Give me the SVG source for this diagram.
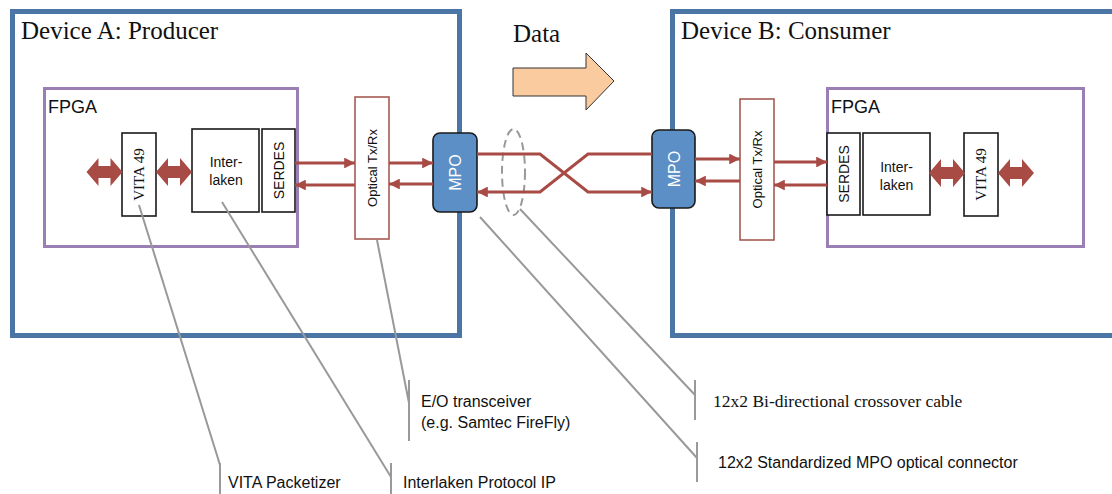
<svg xmlns="http://www.w3.org/2000/svg" width="1112" height="494" viewBox="0 0 1112 494">
  <defs>
    <style>
      .device { fill: #ffffff; stroke: #4a75a4; stroke-width: 5; }
      .fpga { fill: none; stroke: #9a7fb5; stroke-width: 3; }
      .block { fill: #ffffff; stroke: #1a1a1a; stroke-width: 1.6; }
      .optical { fill: #ffffff; stroke: #a0504a; stroke-width: 1.5; }
      .mpo { fill: #5b8fc6; stroke: #1a1a1a; stroke-width: 1.6; }
      .link { fill: none; stroke: #a84b45; stroke-width: 3; }
      .bus { fill: #a84b45; }
      .leader { fill: none; stroke: #999999; stroke-width: 2; }
      .serif { font-family: "Liberation Serif", "Times New Roman", serif; fill: #111111; }
      .sans { font-family: "Liberation Sans", Arial, sans-serif; fill: #111111; }
      .title { font-size: 25px; }
      .fpga-label { font-size: 18px; }
      .inner { font-size: 14px; }
      .note { font-size: 16px; }
      .mpo-label { font-family: "Liberation Sans", Arial, sans-serif; font-size: 16px; fill: #ffffff; }
    </style>
    <marker id="head" viewBox="0 0 10 10" refX="10" refY="5" markerWidth="3.6" markerHeight="3.6" orient="auto" markerUnits="strokeWidth">
      <path d="M0,0 L10,5 L0,10 Z" fill="#a84b45"/>
    </marker>
    <!-- double-headed bus arrow centred on the origin -->
    <polygon id="bus-arrow" points="-18,0 -6,-14 -6,-6 6,-6 6,-14 18,0 6,14 6,6 -6,6 -6,14"/>
  </defs>

  <!-- Device enclosures -->
  <g id="device-a">
    <rect class="device" x="12.5" y="11.5" width="447" height="324"/>
    <text class="serif title" x="21" y="39">Device A: Producer</text>
  </g>
  <g id="device-b">
    <rect class="device" x="672.5" y="11.5" width="450" height="324"/>
    <text class="serif title" x="681" y="39">Device B: Consumer</text>
  </g>

  <!-- Data direction -->
  <g id="data-direction">
    <text class="serif title" x="513" y="42">Data</text>
    <polygon points="513,68 586,68 586,53 614,81 586,110 586,96 513,96" fill="#facb9e" stroke="#333333" stroke-width="1"/>
  </g>

  <!-- Device A internals -->
  <g id="fpga-a">
    <rect class="fpga" x="44.5" y="88.5" width="253" height="158"/>
    <text class="sans fpga-label" x="48" y="113">FPGA</text>
  </g>
  <g id="vita-a">
    <rect class="block" x="122" y="133" width="34" height="83"/>
    <text class="serif" font-size="15" transform="translate(144,174.5) rotate(-90)" text-anchor="middle">VITA 49</text>
  </g>
  <g id="interlaken-a">
    <rect class="block" x="192" y="129" width="67" height="83"/>
    <text class="sans inner" x="226" y="167" text-anchor="middle">Inter-</text>
    <text class="sans inner" x="226" y="185" text-anchor="middle">laken</text>
  </g>
  <g id="serdes-a">
    <rect class="block" x="262" y="129" width="33" height="83"/>
    <text class="sans inner" transform="translate(283.5,170.5) rotate(-90)" text-anchor="middle">SERDES</text>
  </g>
  <g id="optical-a">
    <rect class="optical" x="355" y="97" width="34" height="142"/>
    <text class="sans" font-size="13" transform="translate(376.5,168) rotate(-90)" text-anchor="middle">Optical Tx/Rx</text>
  </g>
  <g id="mpo-a">
    <rect class="mpo" x="433" y="133" width="44" height="79" rx="7"/>
    <text class="mpo-label" transform="translate(461,172.5) rotate(-90)" text-anchor="middle">MPO</text>
  </g>

  <!-- Device B internals -->
  <g id="mpo-b">
    <rect class="mpo" x="652" y="130" width="43" height="78" rx="7"/>
    <text class="mpo-label" transform="translate(679.5,169) rotate(-90)" text-anchor="middle">MPO</text>
  </g>
  <g id="optical-b">
    <rect class="optical" x="740" y="99" width="34" height="141"/>
    <text class="sans" font-size="13" transform="translate(761.5,169.5) rotate(-90)" text-anchor="middle">Optical Tx/Rx</text>
  </g>
  <g id="fpga-b">
    <rect class="fpga" x="827.5" y="88.5" width="256" height="158"/>
    <text class="sans fpga-label" x="831" y="113">FPGA</text>
  </g>
  <g id="serdes-b">
    <rect class="block" x="827" y="133" width="33" height="82"/>
    <text class="sans inner" transform="translate(848.5,174) rotate(-90)" text-anchor="middle">SERDES</text>
  </g>
  <g id="interlaken-b">
    <rect class="block" x="863" y="133" width="67" height="82"/>
    <text class="sans inner" x="896.5" y="172" text-anchor="middle">Inter-</text>
    <text class="sans inner" x="896.5" y="190" text-anchor="middle">laken</text>
  </g>
  <g id="vita-b">
    <rect class="block" x="964" y="133" width="34" height="83"/>
    <text class="serif" font-size="15" transform="translate(986,174.5) rotate(-90)" text-anchor="middle">VITA 49</text>
  </g>

  <!-- Cable bundle marker -->
  <g id="cable-bundle">
    <ellipse cx="513.5" cy="172" rx="11.5" ry="43" fill="none" stroke="#999999" stroke-width="2" stroke-dasharray="8 5"/>
  </g>

  <!-- Connectors -->
  <g id="connectors">
    <!-- bus arrows inside the FPGAs -->
    <use href="#bus-arrow" class="bus" x="104.5" y="172"/>
    <use href="#bus-arrow" class="bus" x="174" y="172"/>
    <use href="#bus-arrow" class="bus" x="947" y="173"/>
    <use href="#bus-arrow" class="bus" x="1016" y="173"/>

    <!-- Device A serial links -->
    <line class="link" x1="295" y1="163" x2="355" y2="163" marker-end="url(#head)"/>
    <line class="link" x1="355" y1="185" x2="295" y2="185" marker-end="url(#head)"/>
    <line class="link" x1="389" y1="163" x2="433" y2="163" marker-end="url(#head)"/>
    <line class="link" x1="433" y1="184" x2="389" y2="184" marker-end="url(#head)"/>

    <!-- crossover cable -->
    <polyline class="link" points="477,154 540,154 588,192 652,192" marker-end="url(#head)"/>
    <polyline class="link" points="652,154 588,154 540,192 477,192" marker-end="url(#head)"/>

    <!-- Device B serial links -->
    <line class="link" x1="695" y1="159" x2="740" y2="159" marker-end="url(#head)"/>
    <line class="link" x1="740" y1="181" x2="695" y2="181" marker-end="url(#head)"/>
    <line class="link" x1="774" y1="162" x2="827" y2="162" marker-end="url(#head)"/>
    <line class="link" x1="827" y1="185" x2="774" y2="185" marker-end="url(#head)"/>

    <!-- annotation leaders -->
    <polyline class="leader" points="139,205 220,465"/>
    <line class="leader" x1="220" y1="463" x2="220" y2="494"/>
    <polyline class="leader" points="222,202 391,477"/>
    <line class="leader" x1="391" y1="463" x2="391" y2="494"/>
    <polyline class="leader" points="377,240 409,403"/>
    <line class="leader" x1="409" y1="380" x2="409" y2="441"/>
    <polyline class="leader" points="520,209 695,395"/>
    <line class="leader" x1="695" y1="380" x2="695" y2="420"/>
    <polyline class="leader" points="480,217 697,458"/>
    <line class="leader" x1="697" y1="442" x2="697" y2="482"/>
  </g>

  <!-- Annotations -->
  <g id="annotations">
    <text class="sans note" x="228" y="488">VITA Packetizer</text>
    <text class="sans note" x="403" y="488">Interlaken Protocol IP</text>
    <text class="sans note" x="421" y="407">E/O transceiver</text>
    <text class="sans note" x="421" y="428">(e.g. Samtec FireFly)</text>
    <text class="serif" font-size="17.5" x="713" y="407">12x2 Bi-directional crossover cable</text>
    <text class="sans note" x="718" y="468">12x2 Standardized MPO optical connector</text>
  </g>
</svg>
